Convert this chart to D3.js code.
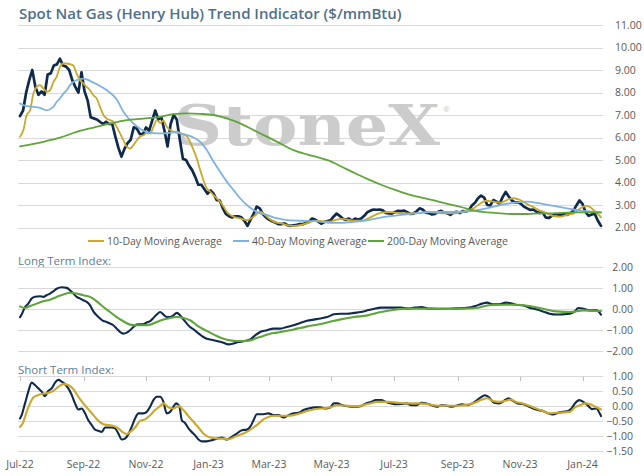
<!DOCTYPE html>
<html>
<head>
<meta charset="utf-8">
<script src="https://cdn.jsdelivr.net/npm/d3@7"></script>
<style>
  body { margin: 0; background: #ffffff; }
  text { font-family: "Open Sans", sans-serif; }
</style>
</head>
<body>
<div id="chart"></div>
<script>

// ------------------------------------------------------------------ DATA ------------------------------------------------------------------ //
// days are counted from startDate; the spot series is read every spotStep days
const startDate = new Date(Date.UTC(2022, 6, 1));
const endDate = new Date(Date.UTC(2024, 0, 20));
const spotStep = 3;

const spotPrice = [
  6.95, 7.2, 8.0, 8.55, 9.0, 8.25, 7.9, 8.05, 7.9, 8.8,
  8.85, 9.2, 9.25, 9.5, 9.2, 9.15, 9.0, 8.55, 8.25, 8.0,
  8.9, 8.05, 7.65, 6.9, 6.85, 6.8, 6.7, 6.6, 6.7, 6.6,
  6.6, 6.05, 5.55, 5.15, 5.5, 5.75, 5.9, 6.45, 6.4, 6.15,
  6.15, 6.45, 6.3, 6.75, 7.2, 6.8, 6.9, 6.3, 5.6, 6.6,
  7.0, 6.8, 5.9, 5.05, 5.0, 4.75, 4.55, 4.25, 3.9, 3.9,
  3.7, 3.5, 3.65, 3.5, 3.22, 3.2, 2.85, 2.6, 2.5, 2.45,
  2.5, 2.5, 2.45, 2.3, 2.07, 2.35, 2.6, 2.93, 2.85, 2.6,
  2.45, 2.35, 2.28, 2.22, 2.15, 2.15, 2.18, 2.1, 2.07, 2.1,
  2.12, 2.15, 2.15, 2.2, 2.25, 2.4, 2.35, 2.26, 2.17, 2.24,
  2.29, 2.32, 2.48, 2.62, 2.52, 2.39, 2.34, 2.4, 2.3, 2.4,
  2.34, 2.4, 2.52, 2.68, 2.75, 2.8, 2.79, 2.8, 2.76, 2.65,
  2.63, 2.62, 2.69, 2.74, 2.73, 2.75, 2.68, 2.6, 2.62, 2.72,
  2.85, 2.8, 2.66, 2.64, 2.58, 2.6, 2.7, 2.74, 2.67, 2.63,
  2.56, 2.66, 2.7, 2.64, 2.73, 2.71, 2.76, 2.98, 3.1, 3.3,
  3.42, 3.33, 3.0, 2.98, 3.22, 3.15, 3.05, 3.35, 3.58, 3.38,
  3.2, 3.12, 3.12, 3.05, 2.92, 2.85, 2.78, 2.8, 2.7, 2.64,
  2.68, 2.45, 2.42, 2.52, 2.6, 2.58, 2.56, 2.6, 2.56, 2.63,
  2.74, 2.98, 3.2, 3.05, 2.68, 2.52, 2.58, 2.6, 2.3, 2.07
];

// moving averages: [day, value]
const ma10 = [[0,6.03],[3.3,6.33],[6.5,7.0],[9.8,7.2],[13,7.95],[16.3,8.25],[19.5,8.33],[22.8,8.18],[26,8.03],[29.3,8.1],
  [32.6,8.47],[35.8,8.7],[39,9.14],[42.3,9.29],[45.6,9.29],[48.8,9.26],[52,9.2],[55.3,8.84],[58.6,8.55],[61.8,8.4],
  [65.1,8.25],[68.4,8.1],[71.6,7.88],[74.9,7.73],[78.1,7.36],[81.4,7.0],[84.6,6.84],[87.9,6.77],[91.1,6.7],[94.4,6.47],
  [97.7,6.18],[100.9,5.88],[104.2,5.59],[107.4,5.51],[110.7,5.66],[113.9,5.88],[117.2,6.03],[120.4,6.1],[123.7,6.18],[127,6.18],
  [130.2,6.47],[133.5,6.77],[136.7,6.65],[140,6.75],[143.2,6.48],[146.5,6.33],[149.7,6.26],[153,6.26],[156.3,6.2],[162.8,6.05],
  [166,5.8],[169.3,5.45],[172.5,5.07],[175.8,4.56],[179,4.11],[182.3,3.74],[185.5,3.59],[188.8,3.44],[192,3.3],[195.3,3.15],
  [198.6,2.93],[201.8,2.7],[205.1,2.56],[208.3,2.48],[214.8,2.41],[221.4,2.33],[227.9,2.48],[234.4,2.7],[240.9,2.48],[247.4,2.26],
  [253.9,2.19],[260.4,2.11],[266.9,2.07],[273.4,2.1],[280,2.19],[288,2.3],[301,2.26],[307.6,2.33],[314.1,2.38],[327.1,2.3],
  [333.7,2.3],[340.2,2.41],[346.7,2.56],[353.2,2.66],[359.7,2.69],[372.7,2.63],[385.7,2.63],[398.8,2.69],[411.8,2.63],[424.8,2.63],
  [431.3,2.7],[442.7,2.85],[449.2,3.07],[455.7,3.19],[462.2,3.15],[468.8,3.1],[475.3,3.22],[481.8,3.3],[488.3,3.22],[494.8,3.04],
  [501.3,2.9],[507.8,2.75],[514.3,2.63],[520.8,2.51],[527.3,2.48],[533.9,2.56],[540.4,2.63],[546.9,2.85],[551.8,2.96],[556.6,2.9],
  [561.5,2.7],[564,2.6],[567,2.45]];

const ma40 = [[0,7.51],[6.5,7.39],[13,7.36],[19.5,7.32],[26,7.21],[32.6,7.36],[35.8,7.59],[39,7.73],[42.3,7.95],[45.6,8.1],
  [48.8,8.33],[52,8.47],[55.3,8.55],[61.8,8.62],[68.4,8.52],[74.9,8.37],[81.4,8.2],[87.9,7.99],[94.4,7.69],[100.9,7.14],
  [107.4,6.77],[113.9,6.5],[120.4,6.3],[127,6.21],[140,6.18],[149.7,6.23],[162.8,6.11],[169.3,6.0],[175.8,5.81],[182.3,5.44],
  [188.8,4.93],[195.3,4.48],[201.8,4.04],[208.3,3.67],[214.8,3.3],[221.4,3.0],[227.9,2.78],[234.4,2.63],[240.9,2.56],[247.4,2.45],
  [253.9,2.38],[260.4,2.33],[273.4,2.3],[288,2.28],[301.1,2.21],[314.1,2.21],[327.1,2.26],[340.2,2.33],[353.2,2.45],[366.2,2.53],
  [379.2,2.6],[392.3,2.66],[405.3,2.69],[431.3,2.7],[442.7,2.75],[455.7,2.85],[468.8,3.0],[481.8,3.1],[494.8,3.15],[507.8,3.07],
  [520.8,2.96],[533.9,2.85],[546.9,2.75],[559.9,2.7],[567,2.67]];

const ma200 = [[0,5.61],[22.8,5.81],[39,5.99],[55.3,6.25],[71.6,6.44],[87.9,6.62],[104.2,6.77],[120.4,6.84],[136.7,6.92],[149.7,7.04],
  [162.8,7.07],[175.8,7.05],[188.8,7.0],[201.8,6.85],[214.8,6.63],[227.9,6.33],[240.9,6.04],[253.9,5.74],[266.9,5.44],[280,5.25],
  [291,5.12],[301,4.98],[314,4.7],[327,4.41],[340,4.14],[353,3.89],[366,3.67],[379,3.47],[392,3.33],[405,3.19],
  [418,3.04],[431,2.9],[443,2.75],[456,2.67],[469,2.63],[482,2.6],[495,2.6],[508,2.63],[521,2.63],[534,2.66],
  [547,2.67],[567,2.67]];

// long term index: [day, value]
const longIndex = [[0,-0.37],[1.6,-0.25],[4.9,0.11],[8.1,0.27],[11.4,0.51],[14.6,0.6],[19.5,0.62],[22.8,0.59],[26,0.67],[29.3,0.75],
  [32.6,0.86],[35.8,0.98],[40.7,1.05],[45.6,1.02],[48.8,0.9],[52.1,0.75],[55.3,0.59],[58.6,0.51],[61.8,0.43],[65.1,0.35],
  [68.4,0.19],[71.6,-0.1],[74.9,-0.29],[78.1,-0.44],[81.4,-0.56],[84.6,-0.6],[87.9,-0.68],[91.1,-0.76],[94.4,-0.92],[97.7,-1.08],
  [100.9,-1.16],[104.2,-1.11],[107.4,-1.0],[110.7,-0.84],[113.9,-0.73],[120.4,-0.71],[123.7,-0.63],[127,-0.56],[130.2,-0.41],[133.5,-0.25],
  [136.7,-0.13],[140,-0.25],[143.2,-0.37],[146.5,-0.37],[149.7,-0.29],[153,-0.17],[156.3,-0.29],[159.5,-0.48],[162.8,-0.68],[166,-0.84],
  [169.3,-0.95],[172.5,-1.08],[175.8,-1.21],[179,-1.32],[182.3,-1.4],[185.5,-1.44],[192.1,-1.51],[198.6,-1.59],[203.5,-1.67],[208.3,-1.63],
  [213.2,-1.56],[218.1,-1.52],[224.6,-1.44],[229.5,-1.24],[234.4,-1.08],[240.9,-1.0],[247.4,-0.92],[253.9,-0.92],[260.4,-0.84],[266.9,-0.76],
  [273.4,-0.65],[280,-0.55],[286.6,-0.49],[293.2,-0.44],[299.8,-0.37],[306.3,-0.24],[312.9,-0.21],[319.5,-0.21],[326,-0.17],[332.6,-0.13],
  [339.2,-0.05],[345.7,0.03],[352.4,0.08],[372.1,0.08],[378.7,0.03],[385.2,0.08],[391.8,0.11],[398.4,0.03],[418.1,0.02],[431.3,0.06],
  [437.9,0.08],[444.4,0.16],[451,0.27],[456,0.32],[460.9,0.24],[467.5,0.24],[474.1,0.32],[479,0.29],[484,0.22],[490.5,0.19],
  [497.1,0.08],[503.7,0.0],[510.3,-0.1],[516.8,-0.21],[523.4,-0.25],[530,-0.24],[536.6,-0.21],[541.5,-0.1],[544.8,0.06],[549.7,0.03],
  [556.3,-0.05],[562.9,-0.05],[567,-0.25]];

const longSignal = [[0,0.14],[4.9,0.06],[9.8,0.16],[16.3,0.27],[22.8,0.38],[29.3,0.46],[35.8,0.59],[42.3,0.71],[48.8,0.79],[55.3,0.75],
  [61.8,0.67],[68.4,0.59],[74.9,0.38],[81.4,0.11],[87.9,-0.13],[94.4,-0.37],[100.9,-0.57],[107.4,-0.73],[113.9,-0.76],[120.4,-0.76],
  [127,-0.73],[133.5,-0.6],[140,-0.49],[146.5,-0.41],[153,-0.37],[159.5,-0.41],[166,-0.52],[172.5,-0.76],[179,-0.95],[185.5,-1.11],
  [192.1,-1.27],[198.6,-1.4],[205.1,-1.48],[211.6,-1.51],[218.1,-1.51],[224.6,-1.48],[231.1,-1.37],[237.6,-1.27],[244.1,-1.16],[250.7,-1.11],
  [257.2,-1.05],[263.7,-1.0],[270.2,-0.92],[276.7,-0.86],[283.2,-0.78],[286.6,-0.76],[299.8,-0.63],[312.9,-0.48],[326,-0.37],[339.2,-0.29],
  [352.4,-0.13],[365.5,-0.02],[378.7,0.03],[418.1,0.02],[431.3,0.03],[444.4,0.06],[457.6,0.19],[470.8,0.22],[484,0.22],[497.1,0.16],
  [510.3,0.03],[523.4,-0.1],[536.6,-0.13],[549.7,-0.05],[562.9,-0.08],[567,-0.08]];

// short term index: [day, value]
const shortIndex = [[0,-0.41],[1.6,-0.3],[4.9,0.09],[8.1,0.48],[11.4,0.78],[14.6,0.7],[17.9,0.59],[21.2,0.48],[24.4,0.33],[27.7,0.51],
  [30.9,0.59],[34.2,0.78],[37.4,0.87],[40.7,0.81],[43.9,0.73],[47.2,0.59],[50.5,0.37],[53.7,0.09],[57,-0.11],[60.2,-0.08],
  [63.5,-0.24],[66.7,-0.47],[70,-0.63],[73.2,-0.78],[76.5,-0.82],[79.8,-0.86],[83,-0.71],[86.3,-0.71],[89.5,-0.71],[92.8,-0.74],
  [96,-0.91],[99.3,-1.11],[102.5,-1.08],[105.8,-0.93],[109,-0.69],[112.3,-0.41],[115.6,-0.24],[120.4,-0.24],[123.7,-0.19],[127,-0.02],
  [130.2,0.2],[133.5,0.31],[136.7,0.31],[140,0.14],[143.2,-0.24],[146.5,-0.19],[149.7,-0.02],[152.3,0.09],[155.6,-0.02],[157.9,-0.47],
  [161.1,-0.56],[164.4,-0.74],[167.6,-0.86],[170.9,-0.97],[174.2,-1.11],[177.4,-1.17],[182.3,-1.17],[187.2,-1.13],[192.1,-1.08],[196.9,-1.04],
  [201.8,-1.11],[206.7,-1.02],[211.6,-0.91],[216.5,-0.8],[221.4,-0.78],[224.6,-0.69],[227.9,-0.47],[231.1,-0.27],[234.4,-0.27],[237.6,-0.27],
  [242.5,-0.24],[247.4,-0.3],[252.3,-0.3],[257.2,-0.38],[262,-0.3],[266.9,-0.24],[271.8,-0.22],[276.7,-0.13],[281.6,-0.08],[288.2,-0.04],
  [293.2,-0.04],[298.1,-0.08],[303,-0.04],[306.3,0.09],[309.6,0.09],[314.5,0.03],[319.5,0.0],[326,-0.02],[332.6,0.0],[337.6,0.09],
  [342.5,0.14],[347.4,0.2],[352.4,0.2],[357.3,0.14],[362.3,0.09],[367.2,0.06],[372.1,0.07],[377.1,0.09],[382,0.03],[387,0.03],
  [391.9,0.11],[396.8,0.09],[401.8,0.03],[406.7,-0.02],[411.6,0.03],[416.6,0.01],[421.5,-0.02],[426.5,0.02],[431.4,0.06],[436.3,0.03],
  [441.3,0.09],[446.2,0.2],[449.5,0.29],[453.8,0.36],[457.7,0.29],[462.7,0.11],[467.6,0.09],[472.5,0.18],[476.8,0.26],[480.8,0.18],
  [485.7,0.09],[490.6,0.07],[495.6,0.0],[500.5,-0.08],[505.4,-0.13],[510.4,-0.16],[515.3,-0.24],[520.2,-0.28],[525.2,-0.22],[530.1,-0.19],
  [535,-0.16],[538.3,-0.08],[541.6,0.09],[545.8,0.2],[549.8,0.14],[554.8,0.0],[558.1,-0.1],[562.4,-0.08],[565.7,-0.24],[567,-0.33]];

const shortSignal = [[0,-0.69],[2.6,-0.58],[6.5,-0.19],[9.8,0.09],[13,0.29],[17.9,0.37],[22.8,0.42],[27.7,0.44],[32.6,0.51],[37.4,0.64],
  [42.3,0.73],[47.2,0.7],[52.1,0.56],[57,0.31],[61.8,0.09],[66.7,-0.11],[71.6,-0.3],[76.5,-0.49],[81.4,-0.6],[86.3,-0.63],
  [91.1,-0.66],[96,-0.74],[100.9,-0.88],[104.2,-0.93],[107.4,-0.86],[112.3,-0.71],[117.2,-0.49],[122.1,-0.44],[127,-0.3],[131.8,-0.13],
  [136.7,0.0],[140,0.09],[144.9,-0.04],[149.7,-0.08],[154.6,0.0],[159.5,-0.13],[164.4,-0.33],[169.3,-0.52],[174.2,-0.71],[179,-0.91],
  [183.9,-1.02],[188.8,-1.06],[193.7,-1.08],[198.6,-1.08],[203.5,-1.1],[208.3,-1.04],[213.2,-0.97],[218.1,-0.91],[223,-0.82],[227.9,-0.71],
  [232.8,-0.58],[237.6,-0.44],[242.5,-0.36],[247.4,-0.32],[253.9,-0.32],[260.4,-0.32],[266.9,-0.3],[273.4,-0.24],[280,-0.16],[286.6,-0.11],
  [293.2,-0.08],[303,-0.04],[309.6,0.03],[319.5,0.01],[329.3,0.0],[339.2,0.07],[349.1,0.14],[359,0.14],[368.9,0.11],[378.7,0.09],
  [388.6,0.09],[398.5,0.06],[408.4,0.01],[418.2,0.01],[428.1,0.01],[438,0.06],[444.6,0.12],[451.1,0.22],[456.1,0.26],[461,0.18],
  [467.6,0.14],[474.2,0.18],[479.1,0.22],[484.1,0.14],[490.6,0.09],[497.2,0.01],[503.8,-0.08],[510.4,-0.16],[517,-0.24],[523.6,-0.22],
  [530.1,-0.21],[536.7,-0.19],[541.6,-0.04],[546.6,0.03],[551.5,0.09],[556.4,0.06],[561.4,-0.02],[567,-0.11]];

const priceTicks = [2, 3, 4, 5, 6, 7, 8, 9, 10, 11];
const longTicks = [-2, -1, 0, 1, 2];
const shortTicks = [-1.5, -1, -0.5, 0, 0.5, 1];
const legendNames = ["10-Day Moving Average", "40-Day Moving Average", "200-Day Moving Average"];

// ------------------------------------------------------------------ SETUP ------------------------------------------------------------------ //
const width = 644, height = 476;
const plotLeft = 18, plotRight = 603;

const colors = {
  spot: "#102a4c",
  ma10: "#c9a82c",
  ma40: "#7fb3de",
  ma200: "#60a53b",
  grid: "#d9d9d9",
  label: "#595959",
  title: "#4f6f8a"
};

const svg = d3.select("#chart")
  .append("svg")
  .attr("width", width)
  .attr("height", height)
  .style("display", "block");

const x = d3.scaleUtc()
  .domain([startDate, endDate])
  .range([20, 602]);

function dayToDate(d) {
  return new Date(startDate.getTime() + d * 86400000);
}

const yPrice = d3.scaleLinear().domain([2, 11]).range([227.5, 25]);
const yLong = d3.scaleLinear().domain([-2, 2]).range([351.3, 267.3]);
const yShort = d3.scaleLinear().domain([-1.5, 1]).range([451.3, 376]);

const fmt = d3.format(".2f");

// gridlines + right hand labels
function drawGrid(y, ticks, labelX, anchor) {
  const g = svg.append("g");
  g.selectAll("line")
    .data(ticks)
    .enter()
    .append("line")
    .attr("x1", plotLeft)
    .attr("x2", plotRight)
    .attr("y1", d => Math.round(y(d)) + 0.5)
    .attr("y2", d => Math.round(y(d)) + 0.5)
    .attr("stroke", colors.grid)
    .attr("stroke-width", 1);
  g.selectAll("text")
    .data(ticks)
    .enter()
    .append("text")
    .attr("x", labelX)
    .attr("y", d => y(d))
    .attr("dy", "0.35em")
    .attr("text-anchor", anchor)
    .attr("font-size", 10.5)
    .attr("fill", colors.label)
    .text(d => fmt(d));
}

function drawLine(data, y, color, widthPx, curve) {
  const line = d3.line()
    .x(d => x(dayToDate(d[0])))
    .y(d => y(d[1]))
    .curve(curve || d3.curveLinear);
  svg.append("path")
    .datum(data)
    .attr("d", line)
    .attr("fill", "none")
    .attr("stroke", color)
    .attr("stroke-width", widthPx)
    .attr("stroke-linejoin", "round")
    .attr("stroke-linecap", "round");
}

// ------------------------------------------------------------------ TOP PANEL ------------------------------------------------------------------ //
svg.append("text")
  .attr("x", 19)
  .attr("y", 19)
  .attr("font-size", 15)
  .attr("font-weight", 600)
  .attr("fill", colors.title)
  .text("Spot Nat Gas (Henry Hub) Trend Indicator ($/mmBtu)");

drawGrid(yPrice, priceTicks, 615, "start");

// watermark (style, so the css font rule does not win)
svg.append("text")
  .attr("x", 174)
  .attr("y", 145)
  .style("font-family", "'DejaVu Serif', 'Liberation Serif', serif")
  .style("font-weight", "bold")
  .attr("font-size", 56)
  .attr("textLength", 266)
  .attr("lengthAdjust", "spacingAndGlyphs")
  .attr("fill", "#cccccc")
  .text("StoneX");
svg.append("text")
  .attr("x", 443)
  .attr("y", 112)
  .attr("font-size", 8)
  .attr("fill", "#cccccc")
  .text("®");

const spotData = spotPrice.map((v, i) => [i * spotStep, v]);
drawLine(spotData, yPrice, colors.spot, 2.7);
drawLine(ma10, yPrice, colors.ma10, 1.8, d3.curveMonotoneX);
drawLine(ma40, yPrice, colors.ma40, 1.8, d3.curveMonotoneX);
drawLine(ma200, yPrice, colors.ma200, 1.8, d3.curveMonotoneX);

// legend
const legendX = [88, 233, 368];
const legendColors = [colors.ma10, colors.ma40, colors.ma200];
const legend = svg.append("g").selectAll("g")
  .data(legendNames)
  .enter()
  .append("g")
  .attr("transform", (d, i) => "translate(" + legendX[i] + ",241)");
legend.append("line")
  .attr("x1", 0).attr("x2", 16)
  .attr("stroke", (d, i) => legendColors[i])
  .attr("stroke-width", 2);
legend.append("text")
  .attr("x", 19)
  .attr("dy", "0.35em")
  .attr("font-size", 10.5)
  .attr("fill", colors.label)
  .text(d => d);

// ------------------------------------------------------------------ LONG TERM ------------------------------------------------------------------ //
svg.append("text")
  .attr("x", 18)
  .attr("y", 265)
  .attr("font-size", 11.5)
  .attr("fill", "#5d7d97")
  .text("Long Term Index:");

drawGrid(yLong, longTicks, 633, "end");
drawLine(longIndex, yLong, colors.spot, 2.1, d3.curveMonotoneX);
drawLine(longSignal, yLong, colors.ma200, 2.1, d3.curveMonotoneX);

// ------------------------------------------------------------------ SHORT TERM ------------------------------------------------------------------ //
svg.append("text")
  .attr("x", 18)
  .attr("y", 374)
  .attr("font-size", 11.5)
  .attr("fill", "#5d7d97")
  .text("Short Term Index:");

drawGrid(yShort, shortTicks, 633, "end");
drawLine(shortIndex, yShort, colors.spot, 2.1, d3.curveMonotoneX);
drawLine(shortSignal, yShort, colors.ma10, 2.1, d3.curveMonotoneX);

// month ticks hang from the top gridline, labels sit below the panel
const months = d3.utcMonth.every(2).range(startDate, endDate);
svg.append("g").selectAll("line")
  .data(months)
  .enter()
  .append("line")
  .attr("x1", d => Math.round(x(d)) + 0.5)
  .attr("x2", d => Math.round(x(d)) + 0.5)
  .attr("y1", Math.round(yShort(1)) + 0.5)
  .attr("y2", Math.round(yShort(1)) + 5)
  .attr("stroke", "#bfbfbf");
svg.append("g").selectAll("text")
  .data(months)
  .enter()
  .append("text")
  .attr("x", d => x(d))
  .attr("y", 468)
  .attr("text-anchor", "middle")
  .attr("font-size", 10.5)
  .attr("fill", colors.label)
  .text(d => d3.utcFormat("%b-%y")(d));

</script>
</body>
</html>
